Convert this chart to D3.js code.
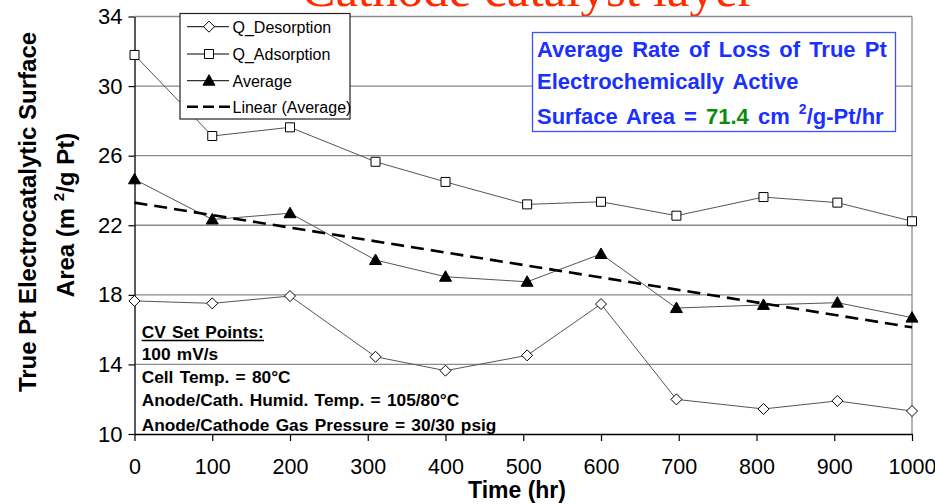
<!DOCTYPE html>
<html><head><meta charset="utf-8">
<script src="https://cdn.jsdelivr.net/npm/d3@7"></script>
<style>body{margin:0;background:#fff;} svg{display:block;}</style>
</head><body>
<svg id="c" width="935" height="504"></svg>
<script>
// ---- data ----
const timeHr      = [0, 100, 200, 310, 400, 505, 600, 697, 809, 904, 1000];
const qDesorption = [17.65, 17.51, 17.93, 14.44, 13.64, 14.52, 17.47, 11.99, 11.44, 11.90, 11.32];
const qAdsorption = [31.79, 27.13, 27.63, 25.65, 24.49, 23.20, 23.35, 22.55, 23.62, 23.30, 22.23];
const average     = [24.64, 22.33, 22.69, 20.00, 19.04, 18.75, 20.35, 17.24, 17.42, 17.55, 16.69];
const xTicks = [0, 100, 200, 300, 400, 500, 600, 700, 800, 900, 1000];
const yTicks = [10, 14, 18, 22, 26, 30, 34];
const legendLabels = ["Q_Desorption", "Q_Adsorption", "Average", "Linear (Average)"];
const setPoints = ["100 mV/s", "Cell Temp. = 80°C", "Anode/Cath. Humid. Temp. = 105/80°C", "Anode/Cathode Gas Pressure = 30/30 psig"];

const svg = d3.select("#c");
const x = d3.scaleLinear().domain([0, 1000]).range([134.5, 912]);
const y = d3.scaleLinear().domain([10, 34]).range([434, 16.5]);
const font = "Liberation Sans, Arial, Helvetica, sans-serif";

// title (partly cut off at top)
svg.append("text").attr("x", 528).attr("y", 6).attr("text-anchor", "middle")
  .attr("font-family", "Liberation Serif, Times New Roman, serif").attr("font-size", 51)
  .attr("fill", "#ff2a00").text("Cathode catalyst layer");

// gridlines
svg.append("g").selectAll("line").data(yTicks.filter(d => d > 10)).join("line")
  .attr("x1", x(0)).attr("x2", x(1000)).attr("y1", d => y(d)).attr("y2", d => y(d))
  .attr("stroke", "#8a8a8a").attr("stroke-width", 1.3);
svg.append("line").attr("x1", x(1000)).attr("x2", x(1000)).attr("y1", y(34)).attr("y2", y(10))
  .attr("stroke", "#8a8a8a").attr("stroke-width", 1.3);

// axes
const gy = svg.append("g").attr("transform", `translate(${x(0)},0)`)
  .call(d3.axisLeft(y).tickValues(yTicks).tickSize(6).tickPadding(6).tickSizeOuter(0));
const gx = svg.append("g").attr("transform", `translate(0,${y(10)})`)
  .call(d3.axisBottom(x).tickValues(xTicks).tickFormat(d3.format("d")).tickSize(7).tickPadding(18).tickSizeOuter(0));
[gx, gy].forEach(g => {
  g.select(".domain").attr("stroke", "#000").attr("stroke-width", 1.3);
  g.selectAll(".tick line").attr("stroke", "#000").attr("stroke-width", 1.2);
  g.selectAll(".tick text").attr("font-family", font).attr("font-size", 22).attr("fill", "#000");
});
gx.selectAll(".tick text").attr("font-size", 21.5);

// axis titles
svg.append("text").attr("x", 517).attr("y", 498).attr("text-anchor", "middle")
  .attr("font-family", font).attr("font-size", 23).attr("font-weight", "bold").text("Time (hr)");
const yt = svg.append("g").attr("font-family", font).attr("font-size", 24).attr("font-weight", "bold");
yt.append("text").attr("transform", "translate(36,212) rotate(-90)").attr("text-anchor", "middle")
  .text("True Pt Electrocatalytic Surface");
const yt2 = yt.append("text").attr("transform", "translate(74,215) rotate(-90)").attr("text-anchor", "middle");
yt2.append("tspan").text("Area (m ");
yt2.append("tspan").attr("font-size", 15).attr("dy", -10).text("2");
yt2.append("tspan").attr("dy", 10).text("/g Pt)");

// markers
const diamond = "M0,-5.5L5.5,0L0,5.5L-5.5,0Z";
const square = "M-4.5,-4.5H4.5V4.5H-4.5Z";
const triangle = "M0,-6L6,4.5L-6,4.5Z";

const line = d3.line().x((d, i) => x(timeHr[i])).y(d => y(d));
const series = [
  {vals: qDesorption, path: diamond, fill: "#fff"},
  {vals: qAdsorption, path: square, fill: "#fff"},
  {vals: average, path: triangle, fill: "#000"}
];
series.forEach(s => {
  svg.append("path").attr("d", line(s.vals)).attr("fill", "none")
    .attr("stroke", "#555").attr("stroke-width", 1);
});

// linear trend of Average (least squares)
const mx = d3.mean(timeHr), my = d3.mean(average);
const slope = d3.sum(timeHr, (t, i) => (t - mx) * (average[i] - my)) / d3.sum(timeHr, t => (t - mx) ** 2);
const icpt = my - slope * mx;
svg.append("line").attr("x1", x(0)).attr("y1", y(icpt)).attr("x2", x(1000)).attr("y2", y(icpt + slope * 1000))
  .attr("stroke", "#000").attr("stroke-width", 2.6).attr("stroke-dasharray", "13,7");

series.forEach(s => {
  svg.append("g").selectAll("path").data(s.vals).join("path")
    .attr("transform", (d, i) => `translate(${x(timeHr[i])},${y(d)})`)
    .attr("d", s.path).attr("fill", s.fill).attr("stroke", "#000").attr("stroke-width", 1);
});

// legend
const lg = svg.append("g");
lg.append("rect").attr("x", 180).attr("y", 13.5).attr("width", 170).attr("height", 105.5)
  .attr("fill", "#fff").attr("stroke", "#222").attr("stroke-width", 1.2);
const rowY = [26.7, 54, 80.7, 106.7];
const mk = [diamond, square, triangle, null];
const mkFill = ["#fff", "#fff", "#000", null];
legendLabels.forEach((lab, i) => {
  if (mk[i]) {
    lg.append("line").attr("x1", 187).attr("x2", 229).attr("y1", rowY[i]).attr("y2", rowY[i])
      .attr("stroke", "#000").attr("stroke-width", 1);
    lg.append("path").attr("d", mk[i]).attr("transform", `translate(209,${rowY[i]})`)
      .attr("fill", mkFill[i]).attr("stroke", "#000");
  } else {
    lg.append("line").attr("x1", 187).attr("x2", 231).attr("y1", rowY[i]).attr("y2", rowY[i])
      .attr("stroke", "#000").attr("stroke-width", 2.6).attr("stroke-dasharray", "11,5");
  }
  lg.append("text").attr("x", 232.5).attr("y", rowY[i] + 5.8).attr("font-family", font)
    .attr("font-size", 16).text(lab);
});

// info box
const ib = svg.append("g").attr("font-family", font).attr("font-weight", "bold").attr("font-size", 22)
  .attr("word-spacing", 3).attr("fill", "#1a30ff");
ib.append("rect").attr("x", 532.5).attr("y", 32.5).attr("width", 363).attr("height", 99)
  .attr("fill", "#fff").attr("stroke", "#3a55ff").attr("stroke-width", 1.3);
ib.append("text").attr("x", 537).attr("y", 56.5).text("Average Rate of Loss of True Pt");
ib.append("text").attr("x", 537).attr("y", 88.5).text("Electrochemically Active");
const l3 = ib.append("text").attr("x", 537).attr("y", 123.5);
l3.append("tspan").text("Surface Area = ");
l3.append("tspan").attr("fill", "#0a8c0a").text("71.4");
l3.append("tspan").text(" cm ");
l3.append("tspan").attr("font-size", 14).attr("dy", -10).text("2");
l3.append("tspan").attr("dy", 10).text("/g-Pt/hr");

// set points text
const sp = svg.append("g").attr("font-family", font).attr("font-weight", "bold").attr("font-size", 17.3)
  .attr("word-spacing", 1.5).attr("fill", "#000");
sp.append("text").attr("x", 141.7).attr("y", 337.5).text("CV Set Points:");
sp.append("line").attr("x1", 141.7).attr("x2", 264).attr("y1", 340.5).attr("y2", 340.5)
  .attr("stroke", "#000").attr("stroke-width", 1.6);
const spY = [359.5, 383, 406, 430.5];
setPoints.forEach((t, i) => sp.append("text").attr("x", 141.7).attr("y", spY[i]).text(t));
</script>
</body></html>
